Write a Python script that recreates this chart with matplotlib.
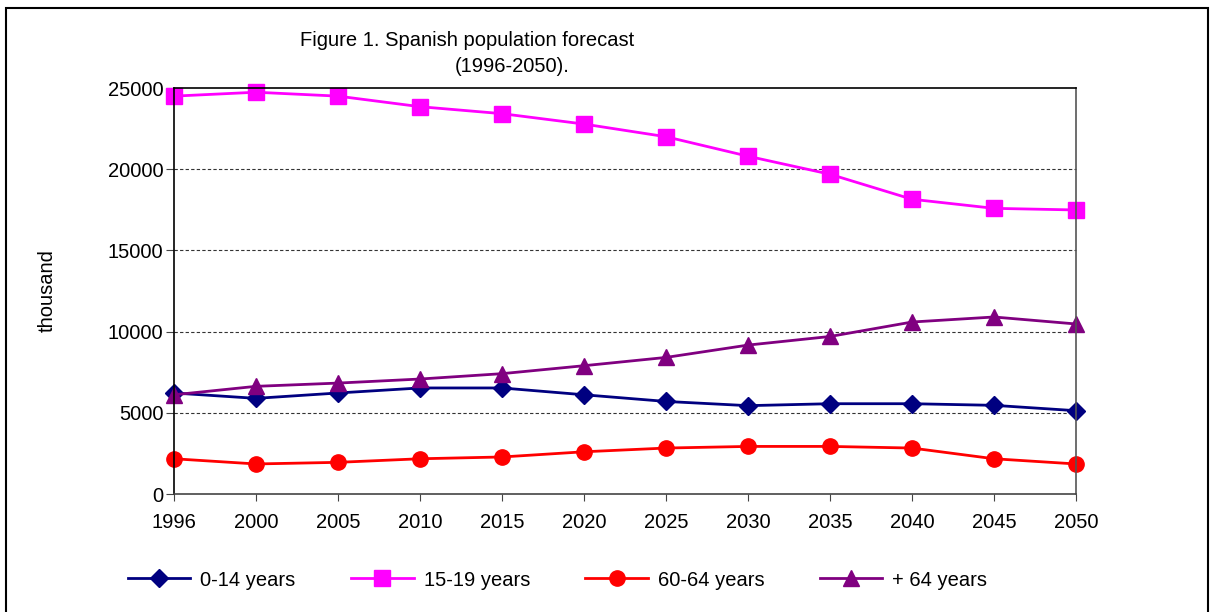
import matplotlib.pyplot as plt
from matplotlib.patches import Rectangle

plt.rcParams['font.family'] = ['Liberation Sans', 'DejaVu Sans']

years = ['1996', '2000', '2005', '2010', '2015', '2020',
         '2025', '2030', '2035', '2040', '2045', '2050']
age_0_14 = [6220, 5890, 6220, 6530, 6530, 6110,
            5700, 5440, 5560, 5560, 5460, 5130]
age_15_19 = [24500, 24740, 24500, 23850, 23420, 22780,
             22000, 20800, 19690, 18150, 17590, 17490]
age_60_64 = [2170, 1850, 1950, 2170, 2280, 2600,
             2830, 2930, 2930, 2830, 2170, 1850]
age_65_plus = [6110, 6630, 6830, 7080, 7410, 7900,
               8410, 9170, 9700, 10590, 10900, 10470]

fig = plt.figure(figsize=(12.15, 6.12), dpi=100)
ax = fig.add_axes([0.1432, 0.1928, 0.7424, 0.6634])

x = range(len(years))
ax.plot(x, age_0_14, color='#000080', lw=2, marker='D', ms=9, label='0-14 years')
ax.plot(x, age_15_19, color='#FF00FF', lw=2, marker='s', ms=11, label='15-19 years')
ax.plot(x, age_60_64, color='#FF0000', lw=2, marker='o', ms=11, label='60-64 years')
ax.plot(x, age_65_plus, color='#800080', lw=2, marker='^', ms=11, label='+ 64 years')

ax.set_xlim(0, len(years) - 1)
ax.set_ylim(0, 25000)
ax.set_xticks(list(x))
ax.set_xticklabels(years)
ax.set_yticks(range(0, 25001, 5000))
ax.tick_params(labelsize=14.5)
ax.tick_params(axis='x', direction='out', length=5, color='#444444', pad=9)
ax.tick_params(axis='y', direction='out', length=6, color='#444444', pad=1.5)
for y in range(5000, 25000, 5000):
    ax.axhline(y, color='#333333', lw=0.8, ls=(0, (3, 2)), zorder=0)

ax.spines['top'].set_color('black')
ax.spines['left'].set_color('black')
ax.spines['right'].set_color('#555555')
ax.spines['bottom'].set_color('#444444')
for s in ax.spines.values():
    s.set_linewidth(1.2)
for line in ax.lines:
    line.set_clip_on(False)

ax.set_ylabel('thousand', fontsize=14.5)
ax.yaxis.set_label_coords(-0.13, 0.5)

fig.text(467 / 1215, 1 - 40 / 612, 'Figure 1. Spanish population forecast',
         ha='center', va='center', fontsize=14.5)
fig.text(512 / 1215, 1 - 67 / 612, '(1996-2050).',
         ha='center', va='center', fontsize=14.5)

fig.legend(loc='center', bbox_to_anchor=(0.459, 1 - 580 / 612), ncol=4,
           frameon=False, fontsize=14.5, handlelength=3.1, handletextpad=0.5,
           columnspacing=2.75)

# outer chart frame, open at the bottom
fig.patches.append(Rectangle((6 / 1215, -0.05), 1202 / 1215, 1 - 8 / 612 + 0.05,
                             transform=fig.transFigure, fill=False,
                             edgecolor='black', lw=1.5))

fig.savefig('out.png', dpi=100)
